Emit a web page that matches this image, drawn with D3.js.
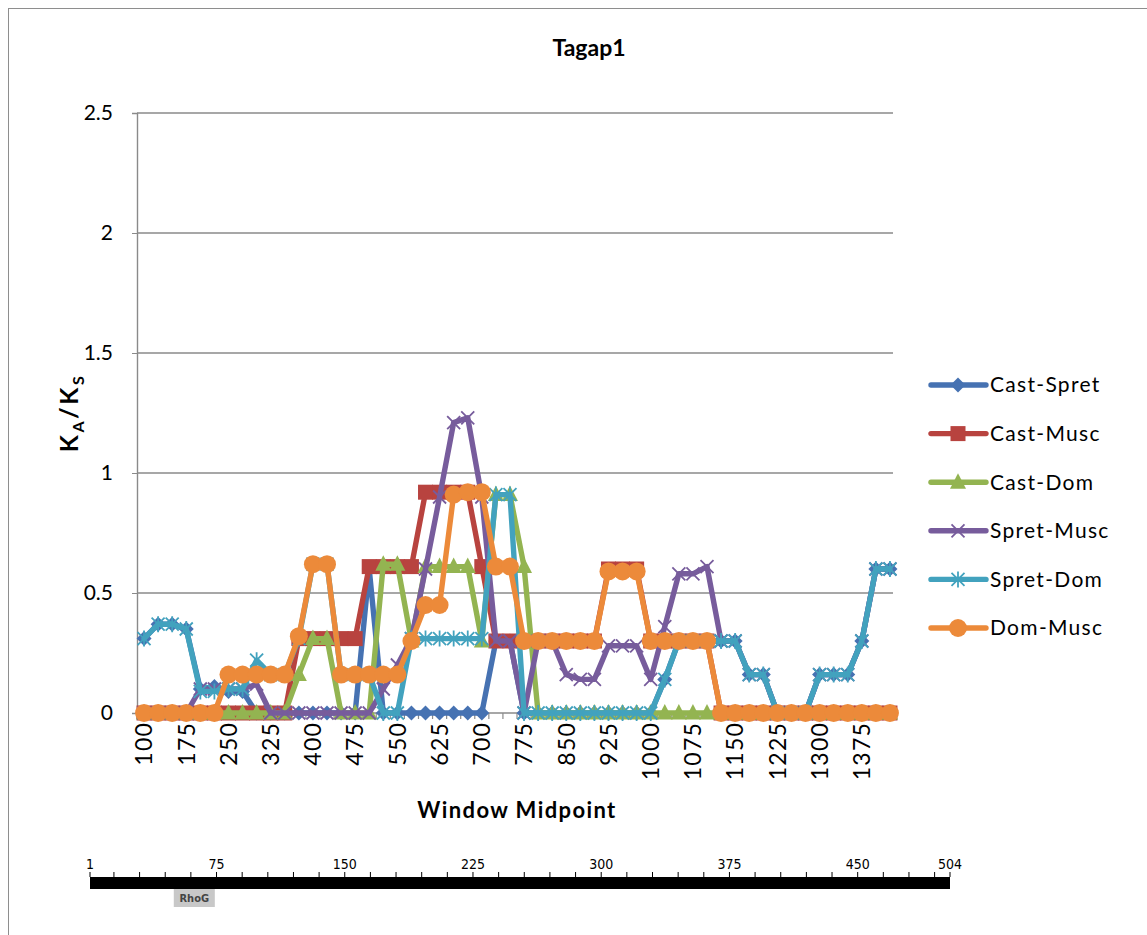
<!DOCTYPE html>
<html><head><meta charset="utf-8">
<script src="https://cdn.jsdelivr.net/npm/d3@7"></script>
<style>
html,body{margin:0;padding:0;background:#fff;}
svg{display:block;font-family:Lato,"Open Sans",sans-serif;}
</style></head>
<body><svg id="c" width="1147" height="935"></svg>
<script>
// ---------- data ----------
const categories = [100,125,150,175,200,225,250,275,300,325,350,375,400,425,450,475,500,525,550,575,600,625,650,675,700,725,750,775,800,825,850,875,900,925,950,975,1000,1025,1050,1075,1100,1125,1150,1175,1200,1225,1250,1275,1300,1325,1350,1375,1400,1425];
const xTickLabels = [100,175,250,325,400,475,550,625,700,775,850,925,1000,1075,1150,1225,1300,1375];
const yTicks = [0,0.5,1,1.5,2,2.5];
const yTickLabels = ["0","0.5","1","1.5","2","2.5"];
const seriesNames = ["Cast-Spret","Cast-Musc","Cast-Dom","Spret-Musc","Spret-Dom","Dom-Musc"];

const castSpret = [0.31,0.37,0.37,0.35,0.10,0.11,0.09,0.09,0,0,
  0,0,0,0,0,0,0.60,0,0,0,
  0,0,0,0,0,0.30,0.30,0,0,0,
  0,0,0,0,0,0,0,0.14,0.30,0.30,
  0.30,0.30,0.30,0.16,0.16,0,0,0,0.16,0.16,
  0.16,0.30,0.60,0.60];
const castMusc = [0,0,0,0,0,0,0,0,0,0,
  0,0.31,0.31,0.31,0.31,0.31,0.61,0.61,0.61,0.61,
  0.92,0.92,0.92,0.92,0.61,0.30,0.30,0.30,0.30,0.30,
  0.30,0.30,0.30,0.60,0.60,0.60,0.30,0.30,0.30,0.30,
  0.30,0,0,0,0,0,0,0,0,0,
  0,0,0,0];
const castDom = [0,0,0,0,0,0,0,0,0,0,
  0,0.16,0.31,0.31,0,0,0,0.62,0.62,0.30,
  0.61,0.61,0.61,0.61,0.30,0.91,0.91,0.61,0,0,
  0,0,0,0,0,0,0,0,0,0,
  0,0,0,0,0,0,0,0,0,0,
  0,0,0,0];
const spretMusc = [0,0,0,0,0.10,0.10,0.10,0.10,0.12,0,
  0,0,0,0,0,0,0,0.10,0.20,0.31,
  0.60,0.90,1.21,1.23,0.90,0.30,0.30,0,0.30,0.30,
  0.16,0.14,0.14,0.28,0.28,0.28,0.14,0.36,0.58,0.58,
  0.61,0.30,0.30,0.16,0.16,0,0,0,0.16,0.16,
  0.16,0.30,0.60,0.60];
const spretDom = [0.31,0.37,0.37,0.35,0.09,0.09,0.10,0.10,0.22,0.16,
  0.16,0.31,0.62,0.62,0.16,0.16,0.16,0,0,0.31,
  0.31,0.31,0.31,0.31,0.31,0.91,0.91,0,0,0,
  0,0,0,0,0,0,0,0.14,0.30,0.30,
  0.30,0.30,0.30,0.16,0.16,0,0,0,0.16,0.16,
  0.16,0.30,0.60,0.60];
const domMusc = [0,0,0,0,0,0,0.16,0.16,0.16,0.16,
  0.16,0.32,0.62,0.62,0.16,0.16,0.16,0.16,0.16,0.30,
  0.45,0.45,0.91,0.92,0.92,0.61,0.61,0.30,0.30,0.30,
  0.30,0.30,0.30,0.59,0.59,0.59,0.30,0.30,0.30,0.30,
  0.30,0,0,0,0,0,0,0,0,0,
  0,0,0,0];

// protein track
const protLabels = [1,75,150,225,300,375,450,504];
const domains = [{name:"RhoG", start:50, end:74}];

// ---------- styling ----------
const colors = ["#4672B2","#B8433F","#93B451","#775C9C","#42A2BE","#EC8A3A"];
const markers = ["diamond","square","triangle","x","star","circle"];
const allSeries = [castSpret,castMusc,castDom,spretMusc,spretDom,domMusc];

const svg = d3.select("#c");
svg.append("rect").attr("x",8.5).attr("y",8.5).attr("width",1200).attr("height",1000)
  .attr("fill","none").attr("stroke","#8e8e8e").attr("stroke-width",1);

const x = d3.scaleBand().domain(categories).range([137,897]).padding(0);
const xc = d => x(d) + x.bandwidth()/2;
const y = d3.scaleLinear().domain([0,2.5]).range([713,113]);

// gridlines
svg.append("g").selectAll("line").data(yTicks.filter(d=>d>0)).join("line")
  .attr("x1",137).attr("x2",893).attr("y1",d=>y(d)).attr("y2",d=>y(d))
  .attr("stroke","#8a8a8a").attr("stroke-width",1.4);

// y axis
const yAxis = svg.append("g").attr("transform","translate(137,0)")
  .call(d3.axisLeft(y).tickValues(yTicks).tickFormat((d,i)=>yTickLabels[i]).tickSize(5).tickPadding(19));
yAxis.select(".domain").attr("stroke","#8a8a8a").attr("stroke-width",1.4);
yAxis.selectAll(".tick line").attr("stroke","#8a8a8a");
yAxis.selectAll("text").attr("font-size",21).attr("fill","#000").attr("font-family","Lato");

// x axis line + boundary ticks
svg.append("line").attr("x1",137).attr("x2",893).attr("y1",y(0)).attr("y2",y(0))
  .attr("stroke","#8a8a8a").attr("stroke-width",1.4);
svg.append("g").selectAll("line").data(categories).join("line")
  .attr("x1",d=>x(d)).attr("x2",d=>x(d)).attr("y1",y(0)).attr("y2",y(0)+6)
  .attr("stroke","#8a8a8a").attr("stroke-width",1.2);

const xAxis = svg.append("g").attr("transform",`translate(0,${y(0)})`)
  .call(d3.axisBottom(x).tickValues(xTickLabels).tickSize(0).tickPadding(0));
xAxis.select(".domain").remove();
xAxis.selectAll("text").attr("transform","rotate(-90)").attr("x",-9).attr("y",0).attr("dy","0.36em")
  .attr("text-anchor","end").attr("font-size",23).attr("letter-spacing",1.2).attr("fill","#000").attr("font-family","Lato");

function drawMarker(g, type, color){
  if(type==="diamond"){
    g.append("path").attr("d","M0,-7.5L7.5,0L0,7.5L-7.5,0Z").attr("fill",color);
  } else if(type==="square"){
    g.append("rect").attr("x",-7.5).attr("y",-7.5).attr("width",15).attr("height",15).attr("fill",color);
  } else if(type==="triangle"){
    g.append("path").attr("d","M0,-9L8,6.5L-8,6.5Z").attr("fill",color);
  } else if(type==="x"){
    g.append("path").attr("d","M-6.5,-6.5L6.5,6.5M-6.5,6.5L6.5,-6.5").attr("stroke",color).attr("stroke-width",1.8).attr("fill","none");
  } else if(type==="star"){
    g.append("path").attr("d","M-6.5,-6.5L6.5,6.5M-6.5,6.5L6.5,-6.5M0,-8L0,8").attr("stroke",color).attr("stroke-width",1.8).attr("fill","none");
  } else if(type==="circle"){
    g.append("circle").attr("r",9).attr("fill",color);
  }
}

const line = d3.line().x((d,i)=>xc(categories[i])).y(d=>y(d));
allSeries.forEach((vals,si)=>{
  const g = svg.append("g");
  g.append("path").attr("d",line(vals)).attr("fill","none").attr("stroke",colors[si])
    .attr("stroke-width",5.4).attr("stroke-linejoin","round").attr("stroke-linecap","round");
  vals.forEach((v,i)=>{
    const mg = g.append("g").attr("transform",`translate(${xc(categories[i])},${y(v)})`);
    drawMarker(mg, markers[si], colors[si]);
  });
});

// title
svg.append("text").attr("x",589).attr("y",56).attr("text-anchor","middle")
  .attr("font-size",23).attr("font-weight","bold").text("Tagap1");

// x title
svg.append("text").attr("x",517).attr("y",818).attr("text-anchor","middle")
  .attr("font-size",22).attr("letter-spacing",1.4).attr("font-weight","bold").text("Window Midpoint");

// y title
const yt = svg.append("text").attr("transform","translate(78,413) rotate(-90)").attr("text-anchor","middle")
  .attr("font-size",25).attr("letter-spacing",2.5).attr("font-weight","bold");
yt.append("tspan").text("K");
yt.append("tspan").attr("font-size",16).attr("dy",6).text("A");
yt.append("tspan").attr("dy",-6).text("/K");
yt.append("tspan").attr("font-size",16).attr("dy",6).text("S");

// legend
const lg = svg.append("g");
seriesNames.forEach((n,i)=>{
  const cy = 385 + i*48.6;
  lg.append("line").attr("x1",931).attr("x2",986).attr("y1",cy).attr("y2",cy)
    .attr("stroke",colors[i]).attr("stroke-width",5.4).attr("stroke-linecap","round");
  const mg = lg.append("g").attr("transform",`translate(958,${cy})`);
  drawMarker(mg, markers[i], colors[i]);
  lg.append("text").attr("x",990).attr("y",cy).attr("dy","0.35em").attr("font-size",21)
    .attr("letter-spacing",1.3).text(n);
});

// protein track
const prot = d3.scaleLinear().domain([1,504]).range([90,950]);
const ptrack = svg.append("g");
ptrack.append("rect").attr("x",prot(1)).attr("y",877).attr("width",prot(504)-prot(1)).attr("height",12).attr("fill","#000");
const pticks = [1].concat(d3.range(15,504,15)).concat([504]);
ptrack.selectAll("line.pt").data(pticks).join("line").attr("class","pt")
  .attr("x1",d=>prot(d)).attr("x2",d=>prot(d)).attr("y1",872).attr("y2",877)
  .attr("stroke","#000").attr("stroke-width",1);
ptrack.selectAll("text.pl").data(protLabels).join("text").attr("class","pl")
  .attr("x",d=>prot(d)).attr("y",869).attr("text-anchor","middle")
  .attr("font-family","DejaVu Sans Condensed, DejaVu Sans").attr("font-size",14).text(d=>d);
domains.forEach(dm=>{
  ptrack.append("rect").attr("x",prot(dm.start)).attr("y",889).attr("width",prot(dm.end)-prot(dm.start)).attr("height",18).attr("fill","#c8c8c8");
  ptrack.append("text").attr("x",(prot(dm.start)+prot(dm.end))/2).attr("y",902).attr("text-anchor","middle")
    .attr("font-family","DejaVu Sans Condensed, DejaVu Sans").attr("font-size",11).attr("font-weight","bold").attr("fill","#444").text(dm.name);
});
</script></body></html>
